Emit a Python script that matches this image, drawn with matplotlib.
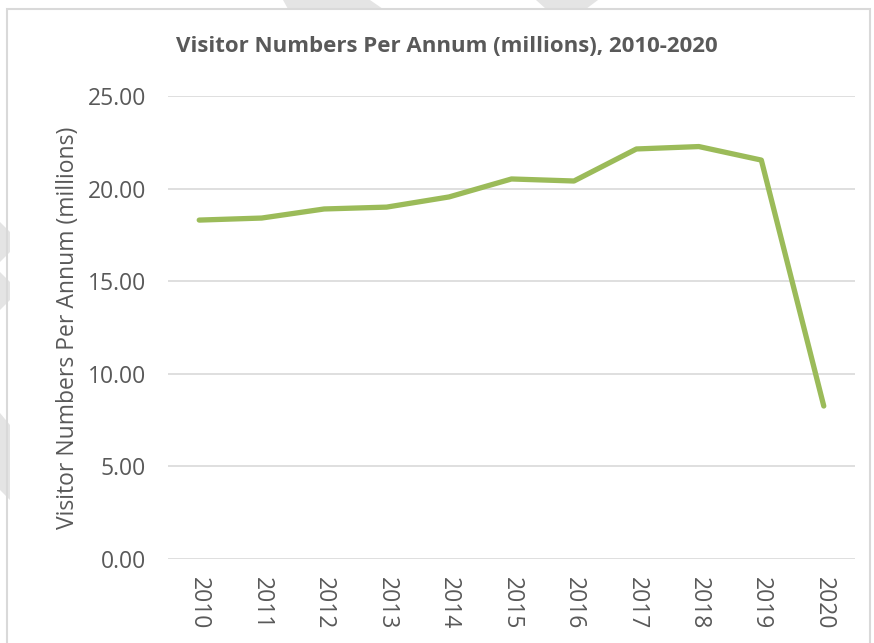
import matplotlib
matplotlib.use("Agg")
import matplotlib.pyplot as plt
from matplotlib.patches import Rectangle, Polygon

# data
years = ["2010", "2011", "2012", "2013", "2014", "2015",
         "2016", "2017", "2018", "2019", "2020"]
visitors = [18.30, 18.41, 18.90, 19.00, 19.55, 20.52,
            20.41, 22.14, 22.27, 21.54, 8.26]

text_col = "#595959"
plt.rcParams['font.family'] = ['Open Sans', 'DejaVu Sans']

W, H = 874, 643
fig = plt.figure(figsize=(W / 100, H / 100), dpi=100)
fig.patch.set_facecolor("white")


def px(pts):
    # pixel coords (from top-left) -> figure fraction
    return [(a / W, 1 - b / H) for a, b in pts]


# faint watermark pieces peeking out around the chart frame
for shape in [
    [(283, 0), (370, 0), (383, 9), (288, 9)],
    [(536, 0), (598, 0), (586, 9), (546, 9)],
    [(0, 222), (10, 232), (10, 252), (0, 262)],
    [(0, 272), (10, 282), (10, 300), (0, 310)],
    [(0, 413), (10, 425), (10, 500), (0, 490)],
]:
    fig.patches.append(Polygon(px(shape), closed=True, transform=fig.transFigure,
                               facecolor="#E4E4E4", edgecolor="none"))

# chart border like the spreadsheet chart frame
fig.patches.append(Rectangle((7 / W, -0.01), 863 / W, 1 - 9 / H + 0.01,
                             transform=fig.transFigure, fill=False,
                             edgecolor="#D9D9D9", linewidth=1.5))

ax = fig.add_axes([168 / W, 1 - 559 / H, 687 / W, 463 / H])
x = range(len(years))
ax.plot(x, visitors, color="#9BBB59", linewidth=3.8, solid_capstyle="round",
        solid_joinstyle="round", zorder=3)

ax.set_xlim(-0.5, len(years) - 0.5)
ax.set_ylim(0, 25)
ax.set_yticks([0, 5, 10, 15, 20, 25])
ax.set_yticklabels([f"{v:.2f}" for v in [0, 5, 10, 15, 20, 25]])
ax.set_xticks(list(x))
ax.set_xticklabels(years, rotation=-90)

ax.grid(axis="y", color="#D9D9D9", linewidth=1.2)
ax.set_axisbelow(True)
for s in ax.spines.values():
    s.set_visible(False)
ax.tick_params(axis="both", length=0, labelsize=16.5, labelcolor=text_col)
ax.tick_params(axis="y", pad=16)
ax.tick_params(axis="x", pad=13)

ax.set_ylabel("Visitor Numbers Per Annum (millions)", fontsize=16.5,
              color=text_col, labelpad=5)
fig.text(0.511, 1 - 47 / H, "Visitor Numbers Per Annum (millions), 2010-2020",
         ha="center", va="center", fontsize=16, fontweight="bold", color=text_col)

fig.savefig("out.png", dpi=100)
